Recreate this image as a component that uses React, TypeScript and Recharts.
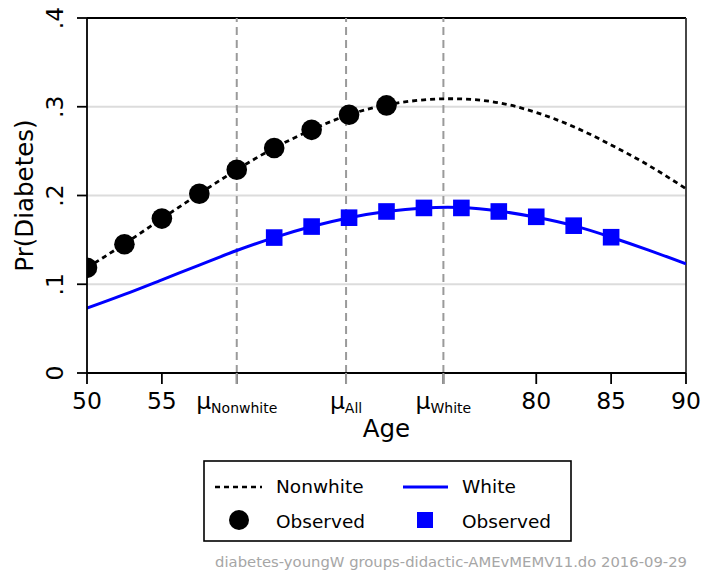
import React from "react"
import {
  ComposedChart,
  Line,
  Scatter,
  XAxis,
  YAxis,
  ReferenceLine,
  Label,
} from "recharts"

/* ── Values ── */
const FIT_AGES = [50, 52.5, 55, 57.5, 60, 62.5, 65, 67.5, 70, 72.5, 75, 77.5, 80, 82.5, 85, 87.5, 90]
const NONWHITE_FIT = [0.1185, 0.1455, 0.174, 0.202, 0.229, 0.2535, 0.274, 0.291, 0.302, 0.3078, 0.3088, 0.3045, 0.2935, 0.2775, 0.257, 0.234, 0.2077]
const WHITE_FIT = [0.073, 0.0885, 0.105, 0.1215, 0.138, 0.1526, 0.165, 0.175, 0.182, 0.186, 0.1865, 0.1825, 0.1755, 0.166, 0.153, 0.1385, 0.123]

const NONWHITE_OBS_AGES = [50, 52.5, 55, 57.5, 60, 62.5, 65, 67.5, 70]
const NONWHITE_OBS = [0.1185, 0.145, 0.174, 0.202, 0.229, 0.2535, 0.274, 0.291, 0.3015]
const WHITE_OBS_AGES = [62.5, 65, 67.5, 70, 72.5, 75, 77.5, 80, 82.5, 85]
const WHITE_OBS = [0.1526, 0.165, 0.175, 0.182, 0.186, 0.186, 0.182, 0.176, 0.166, 0.153]

const MEAN_AGES = [60.0, 67.3, 73.8] // μNonwhite, μAll, μWhite
const X_TICKS = [50, 55, 60.0, 67.3, 73.8, 80, 85, 90]
const X_TICK_LABELS = ["50", "55", "μ|Nonwhite", "μ|All", "μ|White", "80", "85", "90"]
const Y_TICKS = [0, 0.1, 0.2, 0.3, 0.4]
const Y_TICK_LABELS = ["0", ".1", ".2", ".3", ".4"]
const GRID_VALUES = [0.1, 0.2, 0.3]

const nonwhiteLine = FIT_AGES.map((age, i) => ({ age, p: NONWHITE_FIT[i] }))
const whiteLine = FIT_AGES.map((age, i) => ({ age, p: WHITE_FIT[i] }))
const nonwhiteObs = NONWHITE_OBS_AGES.map((age, i) => ({ age, p: NONWHITE_OBS[i] }))
const whiteObs = WHITE_OBS_AGES.map((age, i) => ({ age, p: WHITE_OBS[i] }))

const FONT = "'DejaVu Sans', sans-serif"
const BLUE = "#0000ff"

/* ── Ticks ── */
function XTick({ x, y, payload }: any) {
  const idx = X_TICKS.indexOf(payload.value)
  const label = X_TICK_LABELS[idx] ?? String(payload.value)
  if (label.includes("|")) {
    const [mu, sub] = label.split("|")
    return (
      <g>
        <line x1={x} x2={x} y1={y - 11} y2={y} stroke="#9a9a9a" strokeWidth={2} />
        <text x={x} y={y + 25} textAnchor="middle" fontFamily={FONT} fontSize={23.5} fill="#000">
          <tspan>{mu}</tspan>
          <tspan fontSize={14} dy={4}>{sub}</tspan>
        </text>
      </g>
    )
  }
  return (
    <text x={x} y={y + 25} textAnchor="middle" fontFamily={FONT} fontSize={23.5} fill="#000">
      {label}
    </text>
  )
}

function YTick({ x, y, payload }: any) {
  const idx = Y_TICKS.indexOf(payload.value)
  const tx = x - 14
  return (
    <text x={tx} y={y} transform={`rotate(-90, ${tx}, ${y})`} textAnchor="middle" fontFamily={FONT} fontSize={23.5} fill="#000">
      {Y_TICK_LABELS[idx]}
    </text>
  )
}

const circleShape = (props: any) => <circle cx={props.cx} cy={props.cy} r={10.3} fill="#000" />
const squareShape = (props: any) => <rect x={props.cx - 8.3} y={props.cy - 8.3} width={16.6} height={16.6} fill={BLUE} />

/* ── Legend + footer ── */
function LegendBox() {
  return (
    <svg width={704} height={574} style={{ position: "absolute", left: 0, top: 0, pointerEvents: "none" }}>
      <rect x={204} y={461} width={367} height={80} fill="#fff" stroke="#000" strokeWidth={1.6} />
      <line x1={215} x2={262} y1={487} y2={487} stroke="#000" strokeWidth={2.7} strokeDasharray="5 4" />
      <text x={276} y={493} fontFamily={FONT} fontSize={18.5} fill="#000">Nonwhite</text>
      <line x1={403} x2={448} y1={487} y2={487} stroke={BLUE} strokeWidth={3} />
      <text x={462} y={493} fontFamily={FONT} fontSize={18.5} fill="#000">White</text>
      <circle cx={239} cy={520} r={10} fill="#000" />
      <text x={276} y={528} fontFamily={FONT} fontSize={18.5} fill="#000">Observed</text>
      <rect x={417} y={512} width={16} height={16} fill={BLUE} />
      <text x={462} y={528} fontFamily={FONT} fontSize={18.5} fill="#000">Observed</text>
      <text x={687} y={567} textAnchor="end" fontFamily={FONT} fontSize={14.8} fill="#a6a6a6">
        diabetes-youngW groups-didactic-AMEvMEMV11.do 2016-09-29
      </text>
    </svg>
  )
}

export default function App() {
  return (
    <div style={{ position: "absolute", left: 0, top: 0, width: 704, height: 574, background: "#fff" }}>
      <ComposedChart width={704} height={574} margin={{ top: 18, right: 18, bottom: 131, left: 40 }}>
        <XAxis
          dataKey="age"
          type="number"
          domain={[50, 90]}
          ticks={X_TICKS}
          interval={0}
          height={70}
          tickSize={11}
          tickMargin={0}
          axisLine={{ stroke: "#000", strokeWidth: 1.8 }}
          tickLine={{ stroke: "#000", strokeWidth: 1.8 }}
          tick={<XTick />}
          allowDataOverflow
        >
          <Label
            content={({ viewBox }: any) => (
              <text x={viewBox.x + viewBox.width / 2} y={437} textAnchor="middle" fontFamily={FONT} fontSize={24.5} fill="#000">
                Age
              </text>
            )}
          />
        </XAxis>
        <YAxis
          dataKey="p"
          type="number"
          domain={[0, 0.4]}
          ticks={Y_TICKS}
          interval={0}
          width={47}
          tickSize={10}
          tickMargin={0}
          axisLine={{ stroke: "#000", strokeWidth: 1.8 }}
          tickLine={{ stroke: "#000", strokeWidth: 1.8 }}
          tick={<YTick />}
          allowDataOverflow
        >
          <Label
            content={({ viewBox }: any) => {
              const cy = viewBox.y + viewBox.height / 2
              return (
                <text x={33} y={cy} transform={`rotate(-90, 33, ${cy})`} textAnchor="middle" fontFamily={FONT} fontSize={24.5} fill="#000">
                  Pr(Diabetes)
                </text>
              )
            }}
          />
        </YAxis>

        {GRID_VALUES.map((v) => (
          <ReferenceLine key={`g${v}`} y={v} stroke="#dcdcdc" strokeWidth={2} />
        ))}
        <ReferenceLine y={0.4} stroke="#000" strokeWidth={1.8} />
        <ReferenceLine x={90} stroke="#333" strokeWidth={1.8} />
        {MEAN_AGES.map((m) => (
          <ReferenceLine key={`m${m}`} x={m} stroke="#9a9a9a" strokeWidth={2} strokeDasharray="8 5" />
        ))}

        <Line data={nonwhiteLine} dataKey="p" type="natural" stroke="#000" strokeWidth={2.8} strokeDasharray="5 4" dot={false} isAnimationActive={false} />
        <Line data={whiteLine} dataKey="p" type="natural" stroke={BLUE} strokeWidth={3} dot={false} isAnimationActive={false} />
        <Scatter data={nonwhiteObs} dataKey="p" shape={circleShape} isAnimationActive={false} />
        <Scatter data={whiteObs} dataKey="p" shape={squareShape} isAnimationActive={false} />
      </ComposedChart>
      <LegendBox />
    </div>
  )
}
